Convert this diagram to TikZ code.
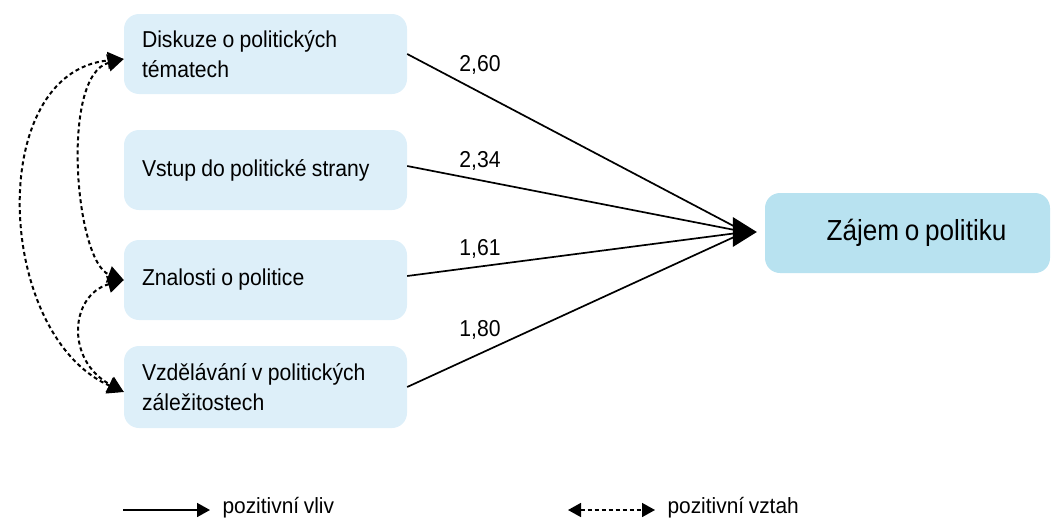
\documentclass[tikz,border=0pt]{standalone}
\usepackage{fontspec}
\setmainfont{Liberation Sans}
\newfontfamily\narr[FakeStretch=0.92,WordSpace=0.9]{Liberation Sans}
\newfontfamily\tgtf[FakeStretch=0.9,WordSpace=0.8]{Liberation Sans}
\newfontfamily\legf[FakeStretch=0.95,WordSpace=0.8]{Liberation Sans}
\usetikzlibrary{arrows.meta,calc}
\definecolor{boxblue}{RGB}{221,239,249}
\definecolor{tgtblue}{RGB}{184,226,240}
\tikzset{
  srcbox/.style={fill=boxblue, rounded corners=15pt, minimum width=283pt, minimum height=80pt,
    inner xsep=18pt, text width=247pt, align=flush left,
    font=\narr\fontsize{23pt}{30pt}\selectfont},
  tgtbox/.style={fill=tgtblue, rounded corners=15pt, minimum width=285pt, minimum height=80pt,
    font=\tgtf\fontsize{29pt}{32pt}\selectfont},
  coef/.style={font=\narr\fontsize{23pt}{26pt}\selectfont},
  legtext/.style={font=\legf\fontsize{22pt}{26pt}\selectfont, anchor=west},
  infl/.style={line width=1.7pt},
  rel/.style={line width=2pt, dash pattern=on 4pt off 3pt,
    {Triangle[length=16pt,width=17pt]}-{Triangle[length=16pt,width=17pt]}},
}
\begin{document}
\begin{tikzpicture}[x=1pt,y=-1pt]
\useasboundingbox (0,0) rectangle (1051,522);
% boxes
\node[srcbox] (d) at (265.5,54) {Diskuze o politických\\tématech};
\node[srcbox] (v) at (265.5,170) {Vstup do politické strany};
\node[srcbox] (z) at (265.5,280) {Znalosti o politice};
\node[srcbox, minimum height=82pt] (e) at (265.5,387) {Vzdělávání v politických\\záležitostech};
\node[tgtbox] (t) at (907.5,233) {\hspace*{18pt}Zájem o politiku};
% influence lines
\coordinate (hub) at (745,232);
\draw[infl] (d.east) -- (hub);
\draw[infl] ([yshift=4pt]v.east) -- (hub);
\draw[infl] ([yshift=4pt]z.east) -- (hub);
\draw[infl] (e.east) -- (hub);
\fill ($(t.west)+(-32,-16)$) -- ($(t.west)+(-8,-1)$) -- ($(t.west)+(-32,14)$) -- cycle;
% coefficients
\node[coef] (c1) at (480,65) {2,60};
\node[coef] (c2) at (480,161) {2,34};
\node[coef] (c3) at (480,249) {1,61};
\node[coef] (c4) at (480,330) {1,80};
% relations
\draw[rel] ([yshift=-5pt]e.west) .. controls (-5,335) and (-15,72) .. ([yshift=-5pt]d.west);
\draw[rel] ([yshift=-5pt]d.west) .. controls (60,75) and (75,262) .. (z.west);
\draw[rel] (z.west) .. controls (70,295) and (65,360) .. ([yshift=-5pt]e.west);
% legend
\coordinate (la) at (123,510);
\coordinate (lb) at (210,510);
\draw[infl, -{Triangle[length=13pt,width=14pt]}] (la) -- (lb);
\node[legtext] (lt1) at (219,508) {pozitivní vliv};
\coordinate (ma) at (568,510);
\coordinate (mb) at (655,510);
\draw[line width=1.6pt, dash pattern=on 4pt off 3pt, {Triangle[length=13pt,width=14pt]}-{Triangle[length=13pt,width=14pt]}] (ma) -- (mb);
\node[legtext] (lt2) at (664,508) {pozitivní vztah};
\end{tikzpicture}
\end{document}
